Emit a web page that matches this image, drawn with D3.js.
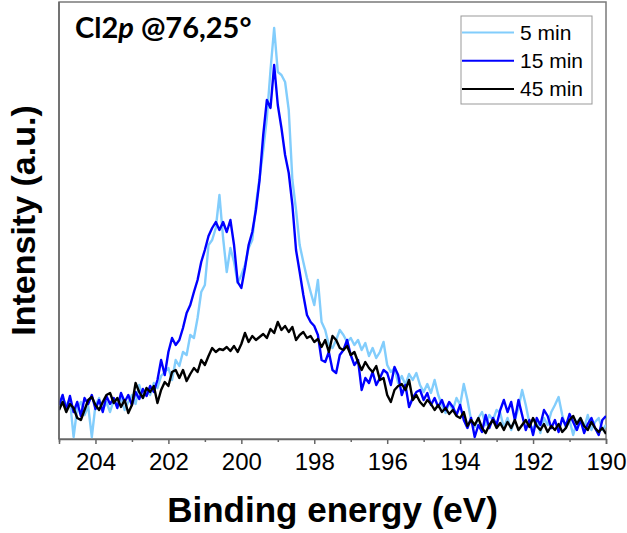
<!DOCTYPE html>
<html><head><meta charset="utf-8">
<script src="https://cdn.jsdelivr.net/npm/d3@7/dist/d3.min.js"></script>
<style>body{margin:0;background:#fff}svg{display:block}</style>
</head><body><svg id="c" width="627" height="533"></svg>
<script>
// ---- data ----
const seriesNames = ["5 min", "15 min", "45 min"];
const seriesColors = ["#82cdfc", "#0000ff", "#000000"];
const xTickValues = [204, 202, 200, 198, 196, 194, 192, 190];
const xMinorTicks = [205, 203, 201, 199, 197, 195, 193, 191];
const energyStart = 205, energyStep = 0.1;
const int5 = [29,41,34,39,2,31,37,24,33,2,
 34,41,29,37,27,39,33,41,29,37,
 44,35,54,41,49,44,56,51,63,67,
 71,59,79,73,87,84,104,101,121,147,
 154,194,199,211,244,201,167,191,177,156,
 164,174,191,199,234,261,289,321,369,411,
 367,364,357,329,259,229,194,177,161,147,
 134,159,117,109,94,91,99,109,104,97,
 101,94,99,89,96,83,91,81,87,97,
 74,67,71,56,63,54,65,59,66,54,
 47,55,46,59,44,34,26,36,29,41,
 34,55,39,19,12,21,27,14,24,19,
 29,26,11,21,9,19,31,49,34,16,
 9,19,6,21,14,27,34,42,24,11,
 19,4,17,21,11,24,9,17,21,9,14];
const int15 = [34,44,29,43,27,37,23,41,35,44,
 30,39,27,43,35,41,31,46,37,44,
 34,47,40,50,43,53,47,59,79,64,
 87,101,94,99,111,126,134,147,159,177,
 189,203,211,217,209,217,207,219,194,157,
 151,171,194,207,229,259,304,339,331,374,
 334,311,284,266,234,189,167,144,124,117,
 113,104,79,77,87,69,66,84,89,99,
 84,74,79,49,61,56,67,54,61,69,
 66,54,72,64,44,54,32,41,47,49,
 39,46,34,41,32,39,29,37,32,24,
 34,19,11,21,2,14,7,24,11,21,
 14,29,39,27,37,19,39,24,9,19,
 4,21,14,29,23,11,19,7,21,13,
 25,17,9,19,6,15,21,11,4,19,23];
const int45 = [29,37,27,35,31,21,19,29,39,42,
 34,29,37,44,46,36,41,32,39,26,
 34,56,47,41,51,47,53,36,49,57,
 53,67,69,61,69,58,65,71,67,79,
 74,83,91,87,90,89,92,88,93,87,
 95,106,97,103,99,102,105,101,110,106,
 117,109,113,107,112,99,104,107,101,103,
 97,100,92,99,87,103,99,91,89,93,
 84,87,77,69,77,71,67,73,59,61,
 44,37,49,53,55,49,59,39,44,37,
 33,39,35,29,34,27,31,25,29,23,
 21,27,13,19,14,21,11,6,14,19,
 11,16,9,17,11,19,9,14,19,12,
 21,13,9,15,7,13,9,15,7,11,
 19,23,15,21,13,9,17,11,7,11,5];
const seriesValues = [int5, int15, int45];

// ---- layout ----
const L = 59, R = 606, T = 2, B = 439;
const svg = d3.select("#c");
const x = d3.scaleLinear().domain([205, 190]).range([L, R]);
const y = d3.scaleLinear().domain([0, 437]).range([B, T]);

svg.append("defs").append("clipPath").attr("id", "clip")
  .append("rect").attr("x", L).attr("y", T).attr("width", R - L).attr("height", B - T);

// frame
svg.append("rect").attr("x", L).attr("y", T).attr("width", R - L).attr("height", B - T)
  .attr("fill", "none").attr("stroke", "#7a7a7a").attr("stroke-width", 1.5);

// lines
const line = d3.line().x((d, i) => x(energyStart - i * energyStep)).y(d => y(d));
const g = svg.append("g").attr("clip-path", "url(#clip)");
seriesValues.forEach((vals, k) => {
  g.append("path").datum(vals).attr("d", line)
    .attr("fill", "none").attr("stroke", seriesColors[k])
    .attr("stroke-width", 2.4).attr("stroke-linejoin", "round");
});

// x axis
const xAxis = d3.axisBottom(x).tickValues(xTickValues).tickSize(5).tickPadding(9).tickFormat(d3.format("d"));
const ax = svg.append("g").attr("transform", `translate(0,${B})`).call(xAxis);
ax.select(".domain").attr("stroke", "#666").attr("stroke-width", 1.5);
ax.selectAll(".tick line").attr("stroke", "#666").attr("stroke-width", 1.5);
ax.selectAll(".tick text").attr("font-family", "Liberation Sans, Arial, sans-serif")
  .attr("font-size", 24).attr("fill", "#000");
const minorAxis = d3.axisBottom(x).tickValues(xMinorTicks).tickSize(3).tickFormat("");
const mx = svg.append("g").attr("transform", `translate(0,${B})`).call(minorAxis);
mx.select(".domain").remove();
mx.selectAll(".tick line").attr("stroke", "#666").attr("stroke-width", 1.5);

// left axis line
svg.append("line").attr("x1", L).attr("x2", L).attr("y1", T).attr("y2", B)
  .attr("stroke", "#666").attr("stroke-width", 1.5);

// axis titles
svg.append("text").attr("x", (L + R) / 2).attr("y", 522).attr("text-anchor", "middle")
  .attr("font-family", "Liberation Sans, Arial, sans-serif").attr("font-weight", "bold")
  .attr("font-size", 35).attr("fill", "#000").text("Binding energy (eV)");
svg.append("text").attr("transform", `translate(35,${(T + B) / 2}) rotate(-90)`)
  .attr("text-anchor", "middle")
  .attr("font-family", "Liberation Sans, Arial, sans-serif").attr("font-weight", "bold")
  .attr("font-size", 34).attr("fill", "#000").text("Intensity (a.u.)");

// title
const t = svg.append("text").attr("x", 75).attr("y", 38)
  .attr("font-family", "Lato, 'Open Sans', sans-serif").attr("font-weight", "bold")
  .attr("font-size", 29).attr("fill", "#000");
t.append("tspan").text("Cl2");
t.append("tspan").attr("font-style", "italic").text("p");
t.append("tspan").text(" @76,25°");

// legend
const lg = svg.append("g");
lg.append("rect").attr("x", 461).attr("y", 16).attr("width", 131).attr("height", 88)
  .attr("fill", "#fff").attr("stroke", "#999").attr("stroke-width", 1);
seriesNames.forEach((name, k) => {
  const yy = 32.5 + k * 28.3;
  lg.append("line").attr("x1", 462).attr("x2", 514).attr("y1", yy).attr("y2", yy)
    .attr("stroke", seriesColors[k]).attr("stroke-width", 2);
  lg.append("text").attr("x", 520).attr("y", yy + 7.2)
    .attr("font-family", "Liberation Sans, Arial, sans-serif").attr("font-size", 21)
    .attr("fill", "#000").text(name);
});
</script></body></html>
